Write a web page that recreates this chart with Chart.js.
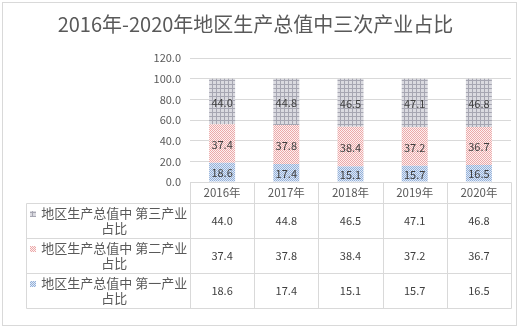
<!DOCTYPE html>
<html>
<head>
<meta charset="utf-8">
<script src="https://cdn.jsdelivr.net/npm/chart.js@4/dist/chart.umd.min.js"></script>
<style>
  html, body { margin: 0; padding: 0; background: #fff; }
</style>
</head>
<body>
<canvas id="js--chart" width="529" height="327"></canvas>
<script>
// categories + values (share of GDP, %)
const years = ["2016年", "2017年", "2018年", "2019年", "2020年"];
const primary = [18.6, 17.4, 15.1, 15.7, 16.5];
const secondary = [37.4, 37.8, 38.4, 37.2, 36.7];
const tertiary = [44.0, 44.8, 46.5, 47.1, 46.8];
const seriesNames = [
    "地区生产总值中 第一产业占比",
    "地区生产总值中 第二产业占比",
    "地区生产总值中 第三产业占比",
];
const yMax = 120;
const yStep = 20;

const FONT = '"Noto Sans CJK SC", "Noto Sans", sans-serif';
const TEXT = "#595959";
const LINE = "#d9d9d9";

// small repeating tiles for the hatched fills
function makePattern(bg, fg, paint) {
    var c = document.createElement("canvas");
    c.width = 4;
    c.height = 4;
    var g = c.getContext("2d");
    g.fillStyle = bg;
    g.fillRect(0, 0, 4, 4);
    g.fillStyle = fg;
    paint(g);
    return g.createPattern(c, "repeat");
}

function checker(g) {
    for (var yy = 0; yy < 4; yy++) {
        for (var xx = 0; xx < 4; xx++) {
            if ((xx + yy) % 2 == 0) g.fillRect(xx, yy, 1, 1);
        }
    }
}

const fillBlue = makePattern("#e0e9f5", "#93b0da", checker);
const fillPink = makePattern("#fdf0f0", "#eba9a9", checker);
const fillGray = makePattern("#dadae0", "#a6a6b2", function (g) {
    g.fillRect(0, 0, 4, 1);
    g.fillRect(0, 0, 1, 4);
});
const fills = [fillBlue, fillPink, fillGray];

// wrap a label into lines no wider than maxW
function wrapText(ctx, text, maxW) {
    var lines = [];
    var cur = "";
    for (var ch of text) {
        if (ctx.measureText(cur + ch).width > maxW && cur.length) {
            lines.push(cur.trim());
            cur = ch;
        } else {
            cur += ch;
        }
    }
    if (cur.length) lines.push(cur.trim());
    return lines;
}

// frame round the whole chart
const framePlugin = {
    id: "frame",
    beforeDraw(chart) {
        const ctx = chart.ctx;
        ctx.save();
        ctx.fillStyle = "#fff";
        ctx.fillRect(0, 0, chart.width, chart.height);
        ctx.strokeStyle = LINE;
        ctx.lineWidth = 1;
        ctx.strokeRect(2.5, 2.5, 514, 323);
        ctx.restore();
    }
};

// value inside every segment
const valuePlugin = {
    id: "segmentValues",
    afterDatasetsDraw(chart) {
        const ctx = chart.ctx;
        ctx.save();
        ctx.font = "11px " + FONT;
        ctx.fillStyle = "#404040";
        ctx.textAlign = "center";
        ctx.textBaseline = "middle";
        chart.data.datasets.forEach(function (ds, i) {
            chart.getDatasetMeta(i).data.forEach(function (bar, j) {
                const p = bar.getProps(["x", "y", "base"], true);
                ctx.fillText(ds.data[j].toFixed(1), p.x, (p.y + p.base) / 2 + 1);
            });
        });
        ctx.restore();
    }
};

// data table under the plot, columns follow the x scale
const tablePlugin = {
    id: "dataTable",
    afterDraw(chart) {
        const ctx = chart.ctx;
        const xs = chart.scales.x;
        const area = chart.chartArea;
        const n = chart.data.labels.length;
        const step = xs.getPixelForValue(1) - xs.getPixelForValue(0);
        const left = Math.round(xs.getPixelForValue(0) - step / 2) + 0.5;
        const right = Math.round(xs.getPixelForValue(n - 1) + step / 2) + 0.5;
        const legLeft = 26.5;
        const top = Math.round(area.bottom) + 0.5;
        const headH = 21;
        const rowH = 35;
        const rows = chart.data.datasets.length;
        const bottom = top + headH + rowH * rows;

        ctx.save();
        ctx.strokeStyle = LINE;
        ctx.lineWidth = 1;
        ctx.beginPath();
        ctx.moveTo(left, top);
        ctx.lineTo(right, top);
        for (var r = 0; r <= rows; r++) {
            var yy = top + headH + rowH * r;
            ctx.moveTo(legLeft, yy);
            ctx.lineTo(right, yy);
        }
        ctx.moveTo(legLeft, top + headH);
        ctx.lineTo(legLeft, bottom);
        for (var c = 0; c <= n; c++) {
            var xx = Math.round(xs.getPixelForValue(c) - step / 2) + 0.5;
            ctx.moveTo(xx, top);
            ctx.lineTo(xx, bottom);
        }
        ctx.stroke();

        ctx.textAlign = "center";
        ctx.textBaseline = "middle";

        // header: categories
        ctx.font = "11.5px " + FONT;
        ctx.fillStyle = TEXT;
        chart.data.labels.forEach(function (lab, j) {
            ctx.fillText(lab, xs.getPixelForValue(j), top + headH / 2);
        });

        // rows: top row is the last (upper) series
        for (var r = 0; r < rows; r++) {
            var di = rows - 1 - r;
            var ds = chart.data.datasets[di];
            var cy = top + headH + rowH * r + rowH / 2;

            ctx.font = "11px " + FONT;
            ctx.fillStyle = "#404040";
            ds.data.forEach(function (v, j) {
                ctx.fillText(v.toFixed(1), xs.getPixelForValue(j), cy);
            });

            ctx.font = "13px " + FONT;
            ctx.fillStyle = TEXT;
            var lines = wrapText(ctx, ds.label, 150);
            var lh = 15;
            var y0 = cy - (lines.length - 1) * lh / 2;
            var tx = (38 + left) / 2;
            lines.forEach(function (ln, k) {
                ctx.fillText(ln, tx, y0 + k * lh);
            });
            // legend key
            ctx.fillStyle = ds.backgroundColor;
            ctx.fillRect(30, Math.round(y0) - 3, 6, 6);
        }
        ctx.restore();
    }
};

const data = {
    labels: years,
    datasets: [
        { label: seriesNames[0], data: primary, backgroundColor: fills[0] },
        { label: seriesNames[1], data: secondary, backgroundColor: fills[1] },
        { label: seriesNames[2], data: tertiary, backgroundColor: fills[2] },
    ]
};

const config = {
    type: "bar",
    data: data,
    options: {
        responsive: false,
        animation: false,
        devicePixelRatio: 1,
        categoryPercentage: 1,
        barPercentage: 0.405,
        layout: { padding: { left: 0, right: 18, top: 0, bottom: 145 } },
        plugins: {
            legend: { display: false },
            tooltip: { enabled: false },
            title: {
                display: true,
                text: "2016年-2020年地区生产总值中三次产业占比",
                color: TEXT,
                font: { family: FONT, size: 20, weight: "normal" },
                padding: { top: 12, bottom: 22 }
            }
        },
        scales: {
            x: {
                stacked: true,
                ticks: { display: false },
                grid: { display: false },
                border: { display: false },
                afterFit: function (s) { s.height = 0; }
            },
            y: {
                stacked: true,
                min: 0,
                max: yMax,
                ticks: {
                    stepSize: yStep,
                    padding: 9,
                    color: TEXT,
                    font: { family: FONT, size: 11 },
                    callback: function (v) { return v.toFixed(1); }
                },
                grid: { color: LINE, drawTicks: false },
                border: { display: false },
                afterFit: function (s) { s.width = 190; }
            }
        }
    },
    plugins: [framePlugin, valuePlugin, tablePlugin]
};

new Chart(document.getElementById("js--chart"), config);
</script>
</body>
</html>
